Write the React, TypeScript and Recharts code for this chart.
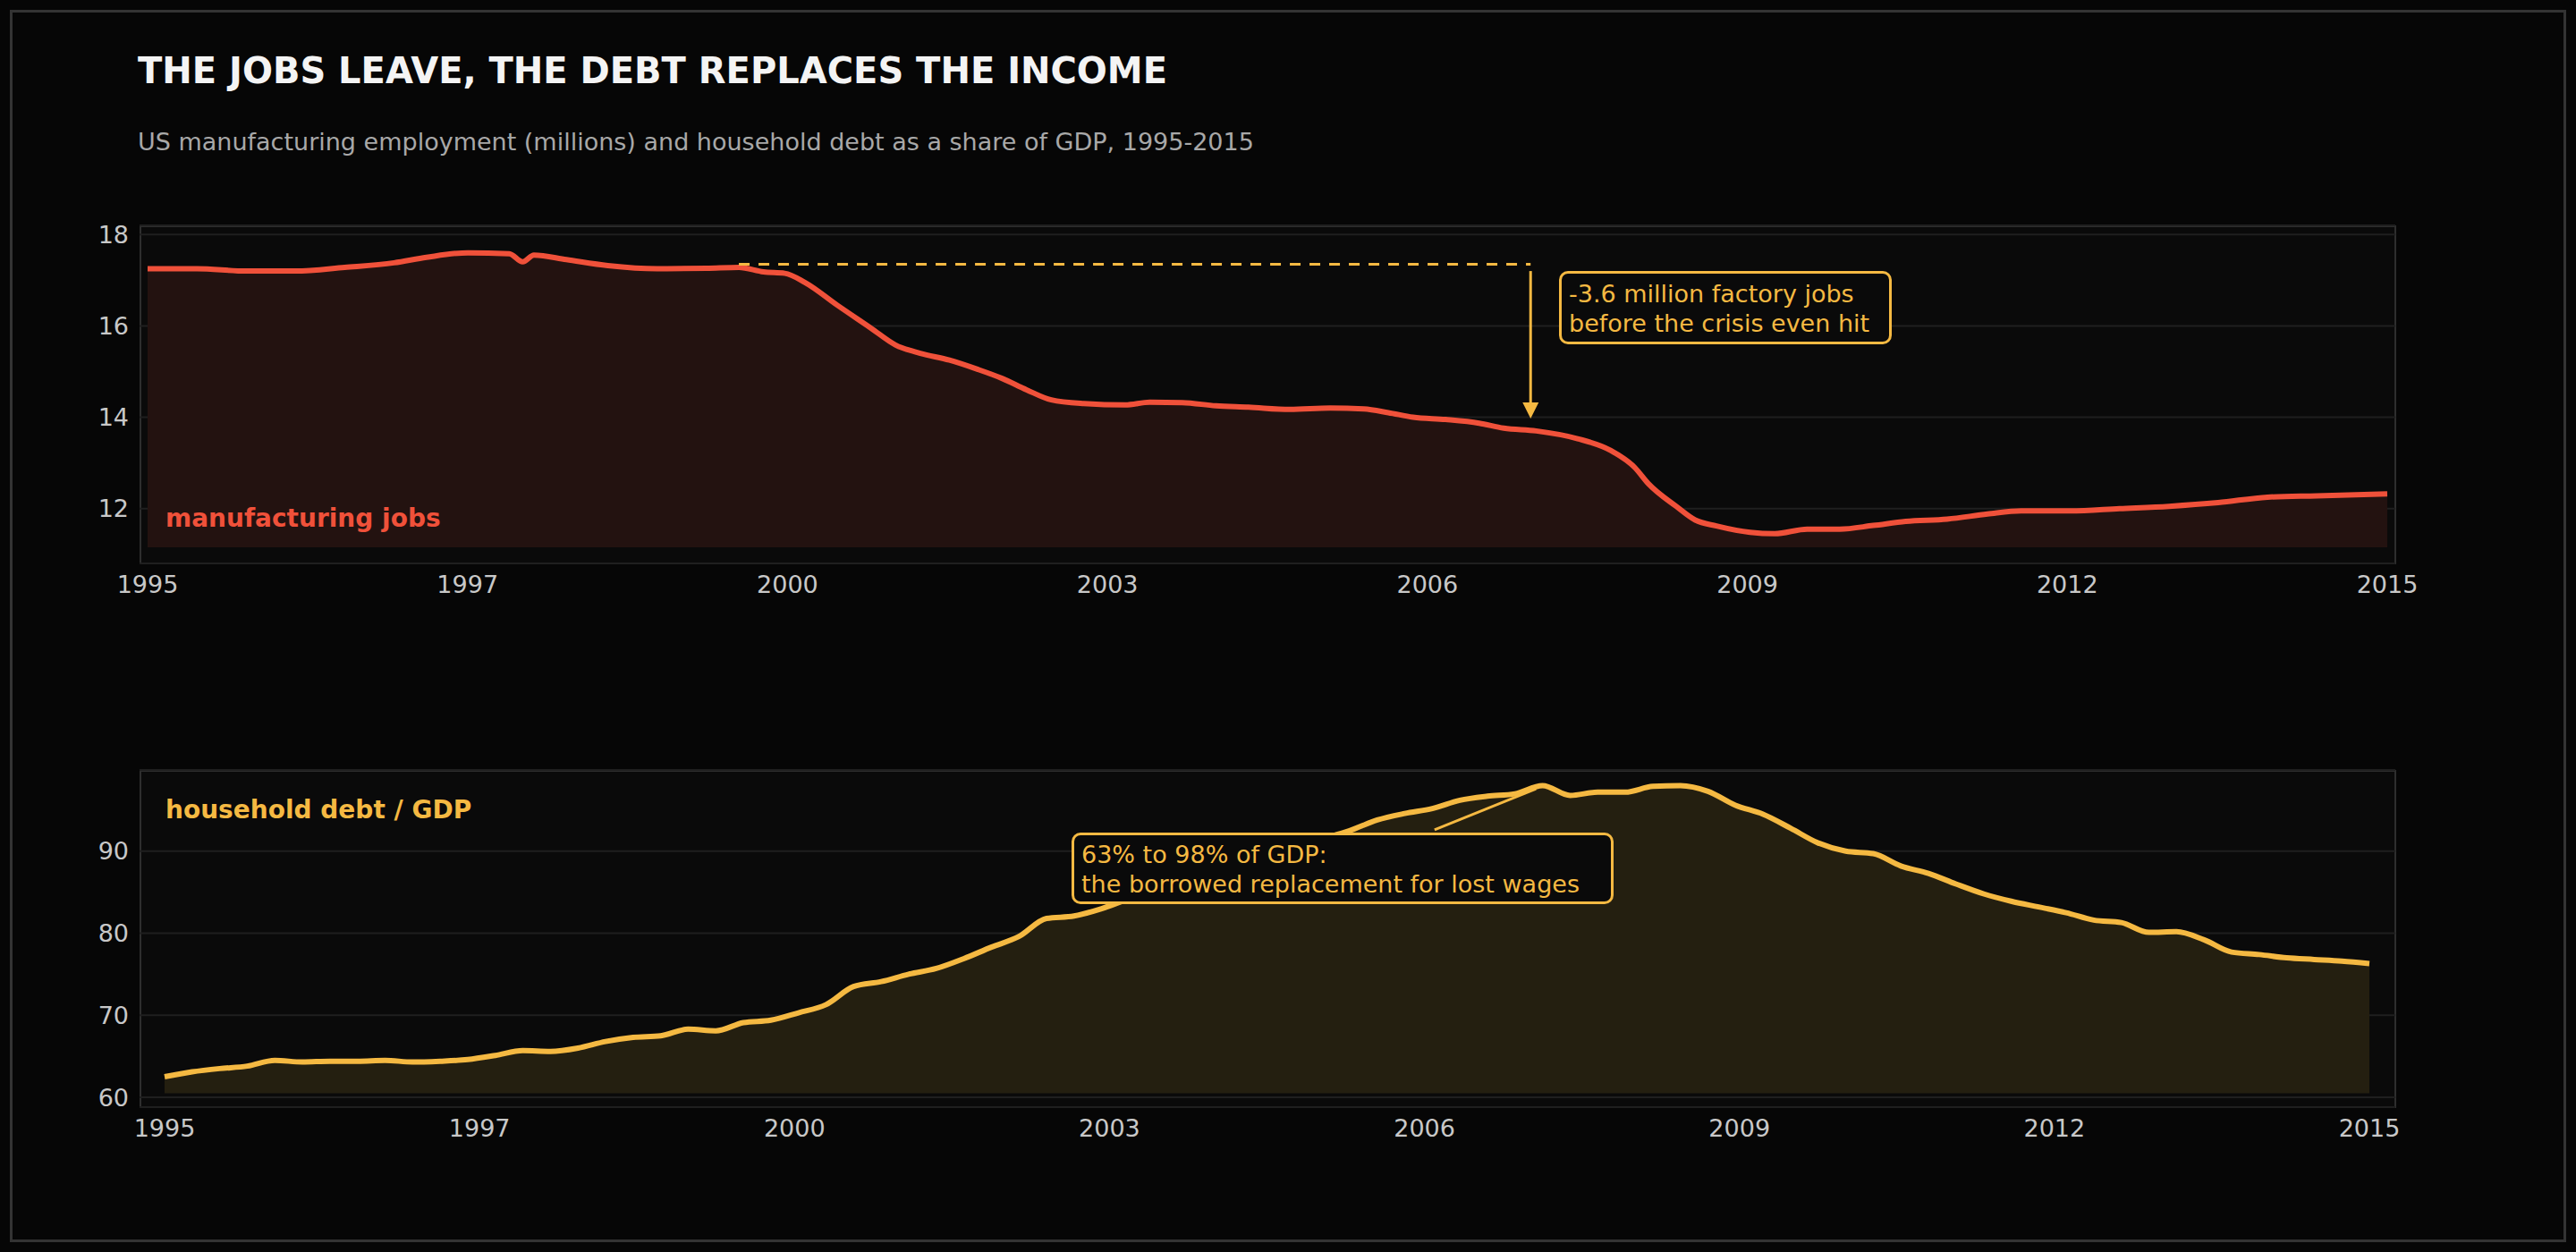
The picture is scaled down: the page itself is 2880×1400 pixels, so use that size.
import React from "react";
import { ComposedChart, Area, XAxis, YAxis, CartesianGrid, ReferenceLine, ReferenceDot } from "recharts";

const jobsYears = [1995.0,1995.44,1995.88,1996.32,1996.76,1997.2,1997.49,1997.86,1998.23,1998.35,1998.45,1998.74,1999.11,1999.55,1999.99,2000.28,2000.5,2000.69,2000.87,2001.16,2001.46,2001.68,2001.9,2002.16,2002.41,2002.63,2002.85,2003.07,2003.36,2003.73,2003.95,2004.24,2004.54,2004.83,2005.2,2005.56,2005.86,2006.08,2006.3,2006.59,2006.89,2007.11,2007.4,2007.77,2008.06,2008.28,2008.4,2008.65,2008.82,2009.01,2009.31,2009.53,2009.82,2010.11,2010.41,2010.7,2011.07,2011.43,2011.73,2012.17,2012.61,2013.05,2013.49,2013.93,2014.37,2015.0];
const jobsValues = [17.25,17.25,17.2,17.2,17.28,17.38,17.5,17.6,17.58,17.4,17.55,17.45,17.32,17.25,17.26,17.28,17.18,17.15,16.95,16.45,15.95,15.58,15.4,15.25,15.05,14.85,14.6,14.38,14.3,14.27,14.33,14.32,14.25,14.22,14.17,14.2,14.18,14.1,14.0,13.95,13.87,13.76,13.7,13.53,13.28,12.9,12.55,12.05,11.75,11.62,11.48,11.45,11.55,11.55,11.63,11.72,11.77,11.88,11.95,11.95,12.0,12.05,12.13,12.25,12.28,12.32];

// quarterly, 1995.0 to 2015.0
const debtValues = [62.5,63.1,63.5,63.8,64.5,64.3,64.4,64.4,64.5,64.3,64.4,64.6,65.1,65.7,65.6,66.0,66.8,67.3,67.5,68.3,68.1,69.1,69.4,70.3,71.3,73.5,74.1,75.0,75.7,76.9,78.3,79.6,81.8,82.1,83.0,84.2,85.3,86.5,87.3,88.2,89.3,90.5,91.5,92.5,93.8,94.6,95.2,96.2,96.7,97.0,98.0,96.8,97.2,97.2,97.9,98.0,97.3,95.6,94.5,92.8,91.0,90.0,89.7,88.2,87.3,86.0,84.8,83.9,83.2,82.5,81.6,81.3,80.1,80.2,79.2,77.7,77.4,77.0,76.8,76.6,76.3];

const xTicks = [0,1,2,3,4,5,6,7].map((k) => 1995 + (k * 20) / 7);
const jobsTicks = [12, 14, 16, 18];
const debtTicks = [60, 70, 80, 90];

const jobsData = jobsYears.map((y, i) => ({ x: y, v: jobsValues[i] }));
const debtData = debtValues.map((v, i) => ({ x: 1995 + i * 0.25, v }));

const RED = "#f0513a";
const GOLD = "#f5b942";
const FONT = "'DejaVu Sans', sans-serif";
const tickStyle = { fill: "#c8c8c8", fontSize: 27, fontFamily: FONT };

const Arrow = (props: any) => {
  const { cx, cy } = props;
  return <path d={`M${cx - 9},${cy - 18} L${cx + 9},${cy - 18} L${cx},${cy} Z`} fill={GOLD} />;
};

const box = (l: number, t: number, r: number, b: number) => ({
  position: "absolute" as const, left: l, top: t, width: r - l, height: b - t,
  background: "#0a0a0a", border: "2px solid #2e2e2e", boxSizing: "border-box" as const,
});

export default function App() {
  return (
    <div style={{ position: "absolute", left: 0, top: 0, width: 2880, height: 1400, background: "#060606", fontFamily: FONT, overflow: "hidden" }}>
      <div style={{ position: "absolute", left: 11, top: 11, width: 2858, height: 1378, border: "3px solid #333", boxSizing: "border-box" }} />
      <div style={{ position: "absolute", left: 154, top: 56, color: "#f4f4f4", fontSize: 40, fontWeight: "bold" }}>THE JOBS LEAVE, THE DEBT REPLACES THE INCOME</div>
      <div style={{ position: "absolute", left: 154, top: 143, color: "#a8a8a8", fontSize: 27 }}>US manufacturing employment (millions) and household debt as a share of GDP, 1995-2015</div>
      <div style={box(156, 252, 2679, 631)} />
      <div style={box(156, 861, 2679, 1239)} />

      <div style={{ position: "absolute", left: 0, top: 0 }}>
        <ComposedChart width={2880} height={1400} data={jobsData} margin={{ left: 76, right: 202, top: 252, bottom: 720 }}>
          <CartesianGrid vertical={false} stroke="#1f1f1f" strokeWidth={2} />
          <XAxis dataKey="x" type="number" domain={[1995, 2015]} ticks={xTicks} tickFormatter={(v) => String(Math.floor(v + 1e-6))} padding={{ left: 9, right: 9 }} axisLine={false} tickLine={false} tick={tickStyle} height={50} tickMargin={8} />
          <YAxis type="number" domain={[10.8, 18.2]} ticks={jobsTicks} axisLine={false} tickLine={false} tick={tickStyle} width={80} tickMargin={6} />
          <Area dataKey="v" type="monotone" stroke={RED} strokeWidth={6} fill="#231210" fillOpacity={1} baseValue={11.15} isAnimationActive={false} dot={false} />
          <ReferenceLine segment={[{ x: 2000.28, y: 17.35 }, { x: 2007.35, y: 17.35 }]} stroke={GOLD} strokeWidth={3} strokeDasharray="12 10" />
          <ReferenceLine segment={[{ x: 2007.35, y: 17.2 }, { x: 2007.35, y: 14.3 }]} stroke={GOLD} strokeWidth={3} />
          <ReferenceDot x={2007.35} y={13.97} r={1} shape={Arrow} />
        </ComposedChart>
      </div>

      <div style={{ position: "absolute", left: 0, top: 0 }}>
        <ComposedChart width={2880} height={1400} data={debtData} margin={{ left: 76, right: 202, top: 861, bottom: 112 }}>
          <CartesianGrid vertical={false} stroke="#1f1f1f" strokeWidth={2} />
          <XAxis dataKey="x" type="number" domain={[1995, 2015]} ticks={xTicks} tickFormatter={(v) => String(Math.floor(v + 1e-6))} padding={{ left: 28, right: 29 }} axisLine={false} tickLine={false} tick={tickStyle} height={50} tickMargin={8} />
          <YAxis type="number" domain={[58.8, 99.9]} ticks={debtTicks} axisLine={false} tickLine={false} tick={tickStyle} width={80} tickMargin={6} />
          <Area dataKey="v" type="monotone" stroke={GOLD} strokeWidth={6} fill="#241f10" fillOpacity={1} baseValue={60.5} isAnimationActive={false} dot={false} />
          <ReferenceLine segment={[{ x: 2006.52, y: 92.6 }, { x: 2007.44, y: 97.6 }]} stroke={GOLD} strokeWidth={3} />
        </ComposedChart>
      </div>

      <div style={{ position: "absolute", left: 185, top: 563, color: RED, fontSize: 28, fontWeight: "bold" }}>manufacturing jobs</div>
      <div style={{ position: "absolute", left: 185, top: 889, color: GOLD, fontSize: 28, fontWeight: "bold" }}>household debt / GDP</div>

      <div style={{ position: "absolute", left: 1743, top: 303, width: 372, height: 82, boxSizing: "border-box", border: `3px solid ${GOLD}`, borderRadius: 10, background: "#0a0a0a", color: GOLD, fontSize: 27, lineHeight: "33px", padding: "6px 8px", whiteSpace: "nowrap" }}>
        -3.6 million factory jobs<br />before the crisis even hit
      </div>
      <div style={{ position: "absolute", left: 1198, top: 931, width: 606, height: 80, boxSizing: "border-box", border: `3px solid ${GOLD}`, borderRadius: 10, background: "#0a0a0a", color: GOLD, fontSize: 27, lineHeight: "33px", padding: "5px 8px", whiteSpace: "nowrap" }}>
        63% to 98% of GDP:<br />the borrowed replacement for lost wages
      </div>
    </div>
  );
}
